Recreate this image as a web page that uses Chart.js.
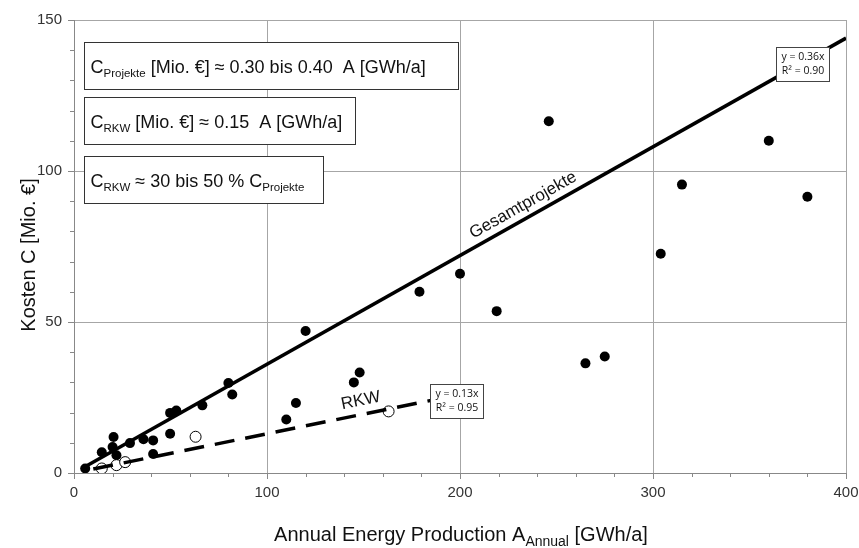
<!DOCTYPE html>
<html><head><meta charset="utf-8">
<script src="https://cdn.jsdelivr.net/npm/chart.js@4.4.1/dist/chart.umd.min.js"></script>
<style>html,body{margin:0;padding:0;background:#fff}#wrap{width:859px;height:548px;position:relative}</style>
</head><body><div id="wrap"><canvas id="c" width="859" height="548"></canvas></div>
<script>
// ---- data ----
const gesamtX = [5.8, 14.4, 20, 20.5, 22, 29, 36, 41, 41, 49.8, 49.8, 53, 66.5, 80, 82, 110, 115, 120, 145, 148, 179, 200, 219, 246, 265, 275, 304, 315, 360, 380];
const gesamtY = [1.5, 6.9, 8.6, 11.9, 5.9, 9.9, 11.2, 10.8, 6.3, 13, 19.9, 20.7, 22.4, 29.8, 26, 17.7, 23.2, 47, 30, 33.3, 60, 66, 53.6, 116.5, 36.3, 38.6, 72.6, 95.5, 110, 91.5];
const rkwX = [14.4, 22, 26.5, 63, 163];
const rkwY = [1.5, 2.6, 3.6, 12, 20.4];
const gesamtTrendX = [5, 400];
const gesamtTrendY = [1.8, 144];
const rkwTrendX = [10, 185];
const rkwTrendY = [1.3, 24.05];
const xTickValues = [0, 100, 200, 300, 400];
const yTickValues = [0, 50, 100, 150];

const FONT = 'Liberation Sans, Arial, sans-serif';

function pts(xs, ys){ return xs.map((x,i)=>({x:x, y:ys[i]})); }

function drawRich(ctx, parts, x, y, size, subSize, align){
  let w = 0;
  parts.forEach(p=>{ ctx.font = (p[1]?subSize:size)+'px '+FONT; w += ctx.measureText(p[0]).width; });
  let cx = align==='center' ? x - w/2 : x;
  ctx.textBaseline = 'alphabetic'; ctx.textAlign='left';
  parts.forEach(p=>{
    ctx.font = (p[1]?subSize:size)+'px '+FONT;
    ctx.fillText(p[0], cx, y + (p[1]? size*0.27 : 0));
    cx += ctx.measureText(p[0]).width;
  });
}

const deco = {
  id:'deco',
  afterDraw(chart){
    const ctx = chart.ctx, xs = chart.scales.x, ys = chart.scales.y, ca = chart.chartArea;
    ctx.save();
    // minor ticks
    ctx.strokeStyle = '#888'; ctx.lineWidth = 1;
    for(let v=0; v<=150; v+=10){
      const py = Math.round(ys.getPixelForValue(v))+0.5;
      ctx.beginPath(); ctx.moveTo(ca.left - (v%50===0?6:4), py); ctx.lineTo(ca.left, py); ctx.stroke();
    }
    for(let v=0; v<=400; v+=20){
      const px = Math.round(xs.getPixelForValue(v))+0.5;
      ctx.beginPath(); ctx.moveTo(px, ca.bottom); ctx.lineTo(px, ca.bottom + (v%100===0?6:4)); ctx.stroke();
    }
    // formula boxes
    ctx.strokeStyle = '#333'; ctx.lineWidth = 1;
    const boxes = [
      {x:84.5, y:42.5, w:374, h:47, parts:[['C',0],['Projekte',1],[' [Mio. €] ≈ 0.30 bis 0.40  A [GWh/a]',0]]},
      {x:84.5, y:97.5, w:271, h:47, parts:[['C',0],['RKW',1],[' [Mio. €] ≈ 0.15  A [GWh/a]',0]]},
      {x:84.5, y:156.5, w:239, h:47, parts:[['C',0],['RKW',1],[' ≈ 30 bis 50 % C',0],['Projekte',1]]}
    ];
    boxes.forEach(b=>{
      ctx.fillStyle='#fff'; ctx.fillRect(b.x,b.y,b.w,b.h); ctx.strokeRect(b.x,b.y,b.w,b.h);
      ctx.fillStyle='#111';
      drawRich(ctx, b.parts, b.x+6, b.y+b.h/2+6.5, 18, 11.5, 'left');
    });
    // trend label boxes
    const tl = [
      {x:776.5, y:47.5, w:53, h:34, l1:'y = 0.36x', l2:'R² = 0.90'},
      {x:430.5, y:384.5, w:53, h:34, l1:'y = 0.13x', l2:'R² = 0.95'}
    ];
    tl.forEach(b=>{
      ctx.fillStyle='#fff'; ctx.fillRect(b.x,b.y,b.w,b.h);
      ctx.strokeStyle='#444'; ctx.strokeRect(b.x,b.y,b.w,b.h);
      ctx.fillStyle='#111'; ctx.font='10.5px "Open Sans", sans-serif'; ctx.textAlign='center'; ctx.textBaseline='middle';
      ctx.fillText(b.l1, b.x+b.w/2, b.y+10);
      ctx.fillText(b.l2, b.x+b.w/2, b.y+24);
    });
    // line labels
    function rotLabel(text, dx, dy, ang, off){
      const px = xs.getPixelForValue(dx), py = ys.getPixelForValue(dy);
      ctx.save(); ctx.translate(px, py); ctx.rotate(-ang);
      ctx.fillStyle='#111'; ctx.font='17px '+FONT; ctx.textAlign='center'; ctx.textBaseline='alphabetic';
      ctx.fillText(text, 0, -off); ctx.restore();
    }
    const angG = Math.atan2(ys.getPixelForValue(0)-ys.getPixelForValue(144), xs.getPixelForValue(400)-xs.getPixelForValue(0));
    const angR = Math.atan2(ys.getPixelForValue(0)-ys.getPixelForValue(13), xs.getPixelForValue(100)-xs.getPixelForValue(0));
    rotLabel('Gesamtprojekte', 236, 85, angG, 8);
    rotLabel('RKW', 150, 19.5, angR, 9);
    // axis titles
    ctx.fillStyle='#111';
    ctx.save(); ctx.translate(35, 255); ctx.rotate(-Math.PI/2);
    ctx.font='20px '+FONT; ctx.textAlign='center'; ctx.textBaseline='alphabetic';
    ctx.fillText('Kosten C [Mio. €]', 0, 0); ctx.restore();
    drawRich(ctx, [['Annual Energy Production A',0],['Annual',1],[' [GWh/a]',0]], 461, 541, 20, 14, 'center');
    ctx.restore();
  }
};

new Chart(document.getElementById('c'), {
  type:'scatter',
  data:{ datasets:[
    {label:'Gesamtprojekte Trend', type:'line', data:pts(gesamtTrendX,gesamtTrendY), borderColor:'#000', borderWidth:3.5, pointRadius:0, showLine:true, fill:false, order:0},
    {label:'RKW Trend', type:'line', data:pts(rkwTrendX,rkwTrendY), borderColor:'#000', borderWidth:3.5, borderDash:[20,11], pointRadius:0, showLine:true, fill:false, order:0},
    {label:'Gesamtprojekte', data:pts(gesamtX,gesamtY), backgroundColor:'#000', borderColor:'#000', pointRadius:5, borderWidth:0, order:2},
    {label:'RKW', data:pts(rkwX,rkwY), backgroundColor:'#fff', borderColor:'#000', pointRadius:5.5, borderWidth:1, order:1}
  ]},
  options:{
    responsive:false, animation:false, devicePixelRatio:1,
    layout:{padding:{top:20, right:13, left:0, bottom:0}},
    plugins:{legend:{display:false}, tooltip:{enabled:false}},
    scales:{
      x:{type:'linear', min:0, max:400,
        afterBuildTicks:s=>{s.ticks = xTickValues.map(v=>({value:v}));},
        afterFit:s=>{s.height = 75; s.paddingLeft = 0; s.paddingRight = 0;},
        ticks:{font:{family:FONT,size:15}, color:'#333', padding:11, maxRotation:0},
        grid:{color:'#a6a6a6', drawTicks:false, lineWidth:1},
        border:{color:'#888', width:1}},
      y:{type:'linear', min:0, max:150,
        afterBuildTicks:s=>{s.ticks = yTickValues.map(v=>({value:v}));},
        afterFit:s=>{s.width = 74; s.paddingTop = 0; s.paddingBottom = 0;},
        ticks:{font:{family:FONT,size:15}, color:'#333', padding:12},
        grid:{color:'#a6a6a6', drawTicks:false, lineWidth:1},
        border:{color:'#888', width:1}}
    }
  },
  plugins:[deco]
});
</script></body></html>
